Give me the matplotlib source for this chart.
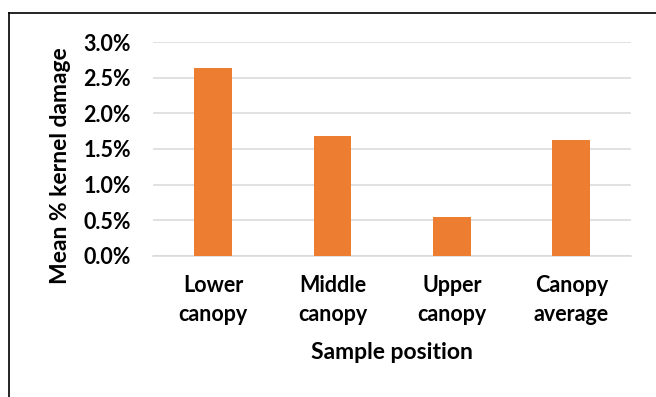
import matplotlib.pyplot as plt
from matplotlib.lines import Line2D
from matplotlib.ticker import FuncFormatter
import numpy as np

# mean kernel damage by sample position (%)
positions = ["Lower\ncanopy", "Middle\ncanopy", "Upper\ncanopy", "Canopy\naverage"]
damage = [2.64, 1.68, 0.55, 1.62]
yticks = [0.0, 0.5, 1.0, 1.5, 2.0, 2.5, 3.0]

plt.rcParams['font.family'] = ['Lato', 'DejaVu Sans']
plt.rcParams['font.weight'] = 'bold'

fig = plt.figure(figsize=(6.56, 3.97), dpi=100)
ax = fig.add_axes([0.2337, 0.3552, 0.9619 - 0.2337, 0.8942 - 0.3552])

x = np.arange(len(positions))
ax.bar(x, damage, width=0.316, color="#ED7D31", zorder=3)

ax.set_xlim(-0.5, len(positions) - 0.5)
ax.set_ylim(0, 3.0)
ax.set_yticks(yticks)
ax.yaxis.set_major_formatter(FuncFormatter(lambda v, p: "%.1f%%" % v))
ax.set_xticks(x)
ax.set_xticklabels(positions, fontsize=15.5, fontweight="bold", linespacing=1.45)
for lab in ax.get_yticklabels():
    lab.set_fontsize(15.5)
    lab.set_fontweight("bold")

ax.grid(axis="y", color="#D9D9D9", linewidth=1.1, zorder=0)
ax.tick_params(axis="both", length=0, colors="black")
ax.tick_params(axis="y", pad=16)
ax.tick_params(axis="x", pad=14)
for s in ["top", "right", "left"]:
    ax.spines[s].set_visible(False)
ax.spines["bottom"].set_color("#D9D9D9")
ax.spines["bottom"].set_linewidth(1.1)

ax.set_xlabel("Sample position", fontsize=16.5, fontweight="bold", labelpad=12)
fig.text(0.0915, 0.582, "Mean % kernel damage", rotation=90, fontsize=16.5,
         fontweight="bold", ha="center", va="center")

# chart frame (only left and top edges fall inside the image)
bx = 8.5 / 656
by = 1 - 12.7 / 397
fig.add_artist(Line2D([bx, bx], [0, by], transform=fig.transFigure, color="black", linewidth=1.2))
fig.add_artist(Line2D([bx, 1], [by, by], transform=fig.transFigure, color="black", linewidth=1.2))

fig.savefig("out.png", dpi=100, facecolor="white")
